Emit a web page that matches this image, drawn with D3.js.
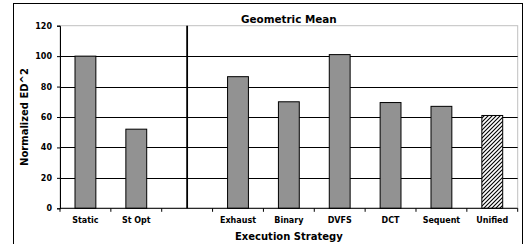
<!DOCTYPE html>
<html><head><meta charset="utf-8">
<script src="https://cdn.jsdelivr.net/npm/d3@7"></script>
<style>
html,body{margin:0;padding:0;background:#fff;}
svg{display:block;font-family:"DejaVu Sans",Verdana,sans-serif;font-weight:bold;}
</style></head>
<body>
<svg id="c" width="526" height="244"></svg>
<script>
const categories = ["Static","St Opt","","Exhaust","Binary","DVFS","DCT","Sequent","Unified"];
const values = [100, 52, null, 86.5, 70, 101, 69.5, 67, 61];
const hatched = [false,false,false,false,false,false,false,false,true];
const yTicks = [0,20,40,60,80,100,120];
const dividerIndex = 2;

const svg = d3.select("#c");
const L = 60, R = 517.7, T = 25.7, B = 208.3;

// outer frame
svg.append("rect").attr("x",13.5).attr("y",3.5).attr("width",509).attr("height",260)
  .attr("fill","#fff").attr("stroke","#000").attr("stroke-width",1);

const defs = svg.append("defs");
const pat = defs.append("pattern").attr("id","hatch").attr("patternUnits","userSpaceOnUse")
  .attr("width",4).attr("height",4);
pat.append("rect").attr("width",4).attr("height",4).attr("fill","#fff");
pat.append("path").attr("d","M-1,1 l2,-2 M0,4 l4,-4 M3,5 l2,-2")
  .attr("stroke","#000").attr("stroke-width",1.1);

const x = d3.scaleBand().domain(d3.range(categories.length)).range([L,R]).padding(0);
const y = d3.scaleLinear().domain([0,120]).range([B,T]);

// plot border (gray)
svg.append("rect").attr("x",L).attr("y",T).attr("width",R-L).attr("height",B-T)
  .attr("fill","none").attr("stroke","#c0c0c0").attr("stroke-width",1);

// gridlines
svg.append("g").selectAll("line").data(yTicks.filter(t=>t>0 && t<120)).join("line")
  .attr("x1",L).attr("x2",R).attr("y1",d=>Math.round(y(d))+0.5).attr("y2",d=>Math.round(y(d))+0.5)
  .attr("stroke","#000").attr("stroke-width",1);

// title
svg.append("text").attr("x",(L+R)/2).attr("y",22.5).attr("text-anchor","middle")
  .attr("font-size",10.4).text("Geometric Mean");

// bars
const bw = x.bandwidth()*0.41;
svg.append("g").selectAll("rect").data(categories.map((c,i)=>({c,i,v:values[i],h:hatched[i]})).filter(d=>d.v!=null))
  .join("rect")
  .attr("x",d=>x(d.i)+x.bandwidth()/2-bw/2)
  .attr("y",d=>y(d.v))
  .attr("width",bw)
  .attr("height",d=>y(0)-y(d.v))
  .attr("fill",d=>d.h?"url(#hatch)":"#929292")
  .attr("stroke","#000").attr("stroke-width",1);

// divider
const dx = x(dividerIndex)+x.bandwidth()/2;
svg.append("line").attr("x1",dx).attr("x2",dx).attr("y1",T).attr("y2",B)
  .attr("stroke","#000").attr("stroke-width",1.8);

// y axis
const ya = svg.append("g").attr("transform",`translate(${L},0)`)
  .call(d3.axisLeft(y).tickValues(yTicks).tickSize(3).tickPadding(5));
ya.select(".domain").attr("stroke","#000");
ya.selectAll("text").attr("font-size",8).attr("font-family","DejaVu Sans").attr("font-weight","bold").attr("fill","#000");

// x axis
const xa = svg.append("g").attr("transform",`translate(0,${B})`);
xa.append("line").attr("x1",L).attr("x2",R).attr("y1",0).attr("y2",0).attr("stroke","#000");
xa.selectAll("line.t").data(d3.range(categories.length+1)).join("line").attr("class","t")
  .attr("x1",i=>L+i*x.bandwidth()).attr("x2",i=>L+i*x.bandwidth()).attr("y1",0).attr("y2",3.5)
  .attr("stroke","#000");
xa.selectAll("text").data(categories).join("text")
  .attr("x",(d,i)=>x(i)+x.bandwidth()/2).attr("y",15).attr("text-anchor","middle")
  .attr("font-size",8).text(d=>d);

// axis titles
svg.append("text").attr("x",(L+R)/2).attr("y",239.5).attr("text-anchor","middle")
  .attr("font-size",10).text("Execution Strategy");
svg.append("text").attr("transform",`translate(28,${(T+B)/2}) rotate(-90)`).attr("text-anchor","middle")
  .attr("font-size",10).text("Normalized ED^2");
</script>
</body></html>
